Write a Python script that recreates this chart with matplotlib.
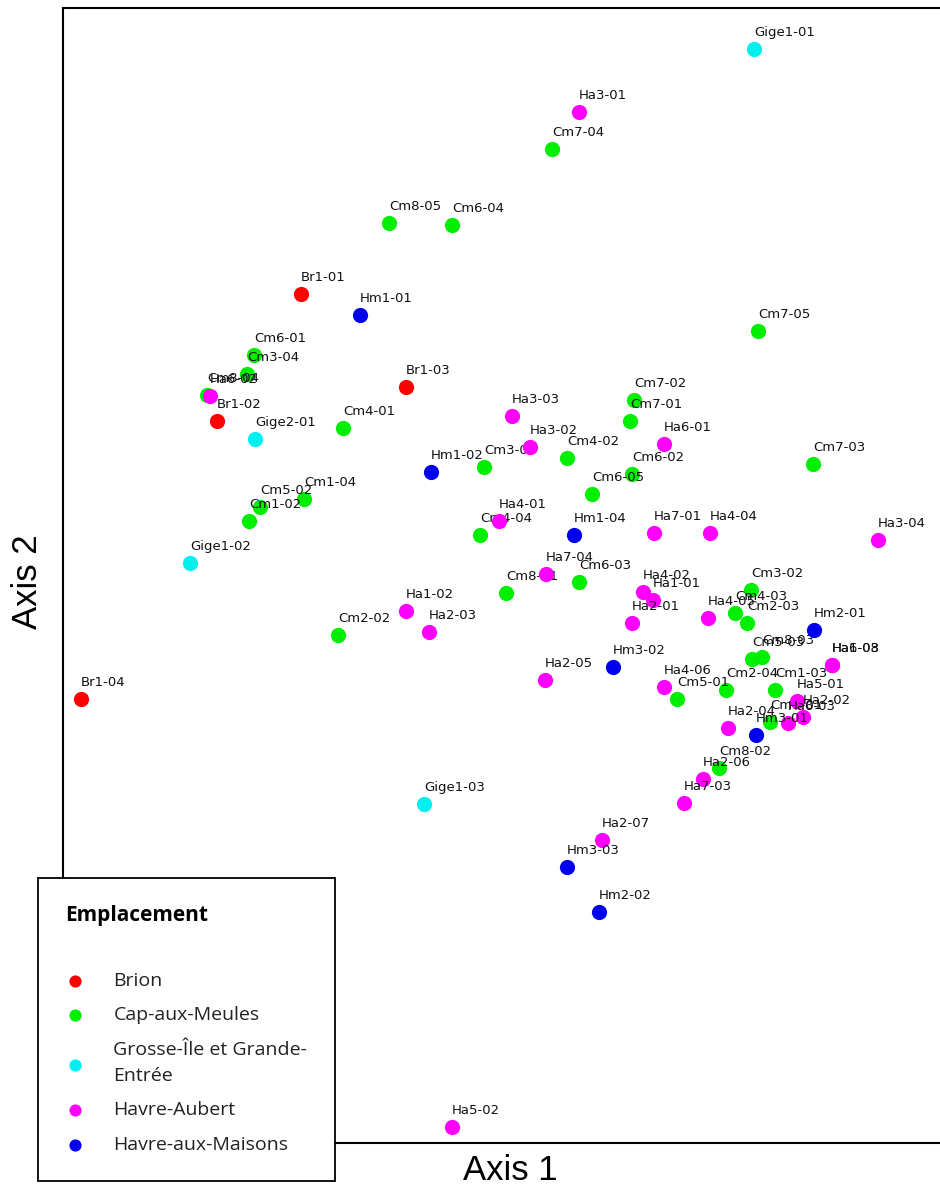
import matplotlib
matplotlib.use("Agg")
import matplotlib.pyplot as plt

# sample scores on the two ordination axes
brion_names = ["Br1-01", "Br1-03", "Br1-02", "Br1-04"]
brion_x = [238, 343, 154, 18]
brion_y = [849, 756, 722, 444]

cap_names = ["Cm7-04", "Cm8-05", "Cm6-04", "Cm7-05", "Cm6-01", "Cm3-04", "Cm8-04",
             "Cm4-01", "Cm7-02", "Cm7-01", "Cm4-02", "Cm3-01", "Cm6-02", "Cm6-05",
             "Cm7-03", "Cm1-04", "Cm5-02", "Cm1-02", "Cm4-04", "Cm8-01", "Cm6-03",
             "Cm3-02", "Cm4-03", "Cm2-03", "Cm5-03", "Cm8-03", "Cm2-02", "Cm5-01",
             "Cm2-04", "Cm1-03", "Cm1-01", "Cm8-02"]
cap_x = [489, 326, 389, 695, 191, 184, 144, 280, 571, 567, 504, 421, 569, 529,
         750, 241, 197, 186, 417, 443, 516, 688, 672, 684, 689, 699, 275, 614,
         663, 712, 707, 656]
cap_y = [994, 920, 918, 812, 788, 769, 748, 715, 743, 722, 685, 676, 669, 649,
         679, 644, 636, 622, 608, 550, 561, 553, 530, 520, 484, 486, 508, 444,
         453, 453, 421, 375]

grosse_names = ["Gige1-01", "Gige2-01", "Gige1-02", "Gige1-03"]
grosse_x = [691, 192, 127, 361]
grosse_y = [1094, 704, 580, 339]

aubert_names = ["Ha3-01", "Ha3-03", "Ha3-02", "Ha6-01", "Ha4-01", "Ha7-01", "Ha4-04",
                "Ha3-04", "Ha7-04", "Ha4-02", "Ha1-01", "Ha1-02", "Ha2-03", "Ha2-01",
                "Ha4-05", "Ha1-03", "Ha6-08", "Ha2-05", "Ha4-06", "Ha5-01", "Ha2-02",
                "Ha6-03", "Ha2-04", "Ha2-06", "Ha7-03", "Ha2-07", "Ha5-02", "Ha6-02"]
aubert_x = [516, 449, 467, 601, 436, 591, 647, 815, 483, 580, 590, 343, 366, 569,
            645, 769, 769, 482, 601, 734, 740, 725, 665, 640, 621, 539, 389, 147]
aubert_y = [1031, 727, 696, 699, 622, 610, 610, 603, 569, 551, 543, 532, 511, 520,
            525, 478, 478, 463, 456, 442, 426, 420, 415, 364, 340, 303, 16, 747]

maisons_names = ["Hm1-01", "Hm1-02", "Hm1-04", "Hm2-01", "Hm3-02", "Hm3-01",
                 "Hm3-03", "Hm2-02"]
maisons_x = [297, 368, 511, 751, 550, 693, 504, 536]
maisons_y = [828, 671, 608, 513, 476, 408, 276, 231]

groups = [
    ("Brion", brion_names, brion_x, brion_y, "#ff0000"),
    ("Cap-aux-Meules", cap_names, cap_x, cap_y, "#00ee00"),
    ("Grosse-Île et Grande-\nEntrée", grosse_names, grosse_x, grosse_y, "#00f0f0"),
    ("Havre-Aubert", aubert_names, aubert_x, aubert_y, "#ff00ff"),
    ("Havre-aux-Maisons", maisons_names, maisons_x, maisons_y, "#0000ee"),
]

fig = plt.figure(figsize=(9.4, 12.01), dpi=100)
ax = fig.add_axes([0.067, 0.0483, 0.933, 0.945])

for name, labels, xs, ys, col in groups:
    ax.scatter(xs, ys, s=120, color=col, label=name, zorder=3, linewidths=0)
    for lab, x, y in zip(labels, xs, ys):
        ax.annotate(lab, (x, y), xytext=(0, 7), textcoords="offset points",
                    ha="left", va="bottom", fontsize=9.5, color="#111111")

ax.set_xlim(0, 877)
ax.set_ylim(0, 1135)
ax.set_xticks([])
ax.set_yticks([])
ax.spines["right"].set_visible(False)
for s in ["left", "top", "bottom"]:
    ax.spines[s].set_linewidth(1.5)

fig.text(0.543, 0.012, "Axis 1", ha="center", va="bottom", fontsize=25,
         family="Liberation Sans")
fig.text(0.012, 0.516, "Axis 2", ha="left", va="center", rotation=90,
         fontsize=25, family="Liberation Sans")

leg = ax.legend(loc="lower left", bbox_to_anchor=(0.040, 0.0167), bbox_transform=fig.transFigure,
                title="Emplacement\n", frameon=True, fancybox=False, markerscale=0.8,
                prop={"family": "Open Sans", "size": 14}, handletextpad=1.5,
                borderpad=1.4, labelspacing=0.85, handlelength=1.0, alignment="left",
                framealpha=1.0, borderaxespad=0)
for t in leg.get_texts():
    t.set_linespacing(1.55)
    t.set_color("#222222")
leg.get_title().set_fontweight("bold")
leg.get_title().set_fontsize(15)
leg.get_title().set_family("Open Sans")
leg.get_title().set_linespacing(1.5)
leg.get_frame().set_edgecolor("black")
leg.get_frame().set_linewidth(1.3)
leg.set_zorder(5)

fig.savefig("out.png", dpi=100)
